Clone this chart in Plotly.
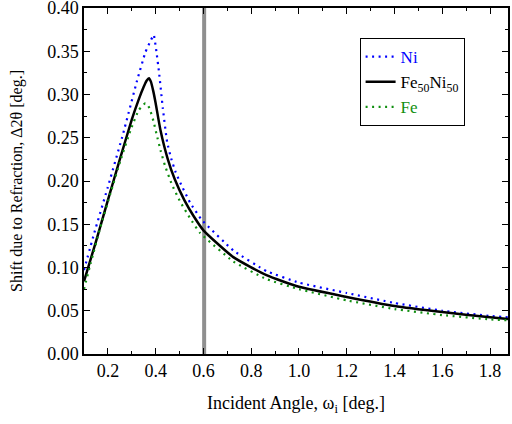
import plotly.graph_objects as go

# Incident angle (deg.) and refraction shift (deg.)
ni_x = [0.10, 0.142, 0.204, 0.264, 0.322, 0.357, 0.380, 0.392, 0.403, 0.414, 0.430, 0.448,
        0.465, 0.484, 0.503, 0.544, 0.593, 0.725, 0.864, 1.00, 1.20, 1.40, 1.60, 1.80, 1.875]
ni_y = [0.097, 0.139, 0.197, 0.255, 0.316, 0.349, 0.363, 0.369, 0.350, 0.326, 0.284, 0.245,
        0.226, 0.210, 0.198, 0.175, 0.155, 0.1197, 0.0958, 0.0825, 0.0705, 0.059, 0.050, 0.044, 0.0425]

feni_x = [0.10, 0.15, 0.20, 0.25, 0.30, 0.33, 0.35, 0.362, 0.372, 0.380, 0.390, 0.400, 0.420,
          0.450, 0.480, 0.520, 0.560, 0.600, 0.725, 0.864, 1.00, 1.20, 1.40, 1.60, 1.80, 1.875]
feni_y = [0.084, 0.130, 0.178, 0.225, 0.271, 0.295, 0.309, 0.316, 0.319, 0.315, 0.304, 0.290, 0.259,
          0.226, 0.202, 0.178, 0.159, 0.143, 0.112, 0.0912, 0.0777, 0.066, 0.0555, 0.0485, 0.0425, 0.0405]

fe_x = [0.10, 0.128, 0.169, 0.211, 0.253, 0.295, 0.329, 0.348, 0.357, 0.367, 0.378, 0.392, 0.403,
        0.422, 0.440, 0.468, 0.503, 0.544, 0.586, 0.725, 0.864, 1.00, 1.20, 1.40, 1.60, 1.80, 1.875]
fe_y = [0.075, 0.105, 0.147, 0.186, 0.224, 0.259, 0.282, 0.288, 0.290, 0.288, 0.281, 0.268, 0.255,
        0.234, 0.217, 0.196, 0.176, 0.157, 0.140, 0.107, 0.0866, 0.075, 0.062, 0.052, 0.045, 0.040, 0.039]

marker_angle = 0.603
y_range = [0.0, 0.4001]

FONT = "Liberation Serif"
NI_BLUE = '#0000ff'
FE_GREEN = '#108f10'

fig = go.Figure()

# grey marker line at the chosen incident angle
fig.add_trace(go.Scatter(
    x=[marker_angle, marker_angle], y=y_range, mode='lines',
    line=dict(color='#8f8f8f', width=4), showlegend=False, hoverinfo='skip'
))

fig.add_trace(go.Scatter(
    x=ni_x, y=ni_y, mode='lines', line_shape='spline',
    line=dict(color=NI_BLUE, width=2.2, dash='2px,4.5px', smoothing=0.3),
    name=f'<span style="color:{NI_BLUE}">Ni</span>'
))
fig.add_trace(go.Scatter(
    x=feni_x, y=feni_y, mode='lines', line_shape='spline',
    line=dict(color='black', width=2.5, smoothing=0.5),
    name='Fe<sub>50</sub>Ni<sub>50</sub>'
))
fig.add_trace(go.Scatter(
    x=fe_x, y=fe_y, mode='lines', line_shape='spline',
    line=dict(color=FE_GREEN, width=2.2, dash='2px,4.5px', smoothing=0.4),
    name=f'<span style="color:{FE_GREEN}">Fe</span>'
))

axis_common = dict(
    showline=True, linecolor='black', linewidth=1.5, mirror='allticks',
    ticks='inside', ticklen=6, tickwidth=1.2, tickcolor='black',
    showgrid=False, zeroline=False, automargin=False, ticklabeloverflow='allow',
    tickfont=dict(family=FONT, size=18, color='black'),
)

fig.update_xaxes(
    range=[0.1, 1.875], dtick=0.2, tick0=0.2, tickformat='.1f',
    minor=dict(ticks='inside', ticklen=3, dtick=0.1, tick0=0.1, tickcolor='black', showgrid=False),
    title=dict(text='Incident Angle, ω<sub>i</sub> [deg.]', standoff=16,
               font=dict(family=FONT, size=18, color='black')),
    **axis_common
)
fig.update_yaxes(
    range=y_range, dtick=0.05, tick0=0, tickformat='.2f',
    minor=dict(ticks='inside', ticklen=3, dtick=0.025, tickcolor='black', showgrid=False),
    title=dict(text='Shift due to Refraction, Δ2θ [deg.]', standoff=21,
               font=dict(family=FONT, size=16, color='black')),
    **axis_common
)

fig.update_layout(
    width=512, height=424,
    margin=dict(l=84, r=4, t=8, b=70),
    paper_bgcolor='white', plot_bgcolor='white',
    font=dict(family=FONT, size=15, color='black'),
    legend=dict(
        x=0.65, y=0.913, xanchor='left', yanchor='top',
        bordercolor='black', borderwidth=1, bgcolor='white',
        font=dict(family=FONT, size=17, color='black'),
        tracegroupgap=0,
    ),
)

# drop the default page margin so the figure sits at the window's corner
fig.write_html("out.html", config={'displayModeBar': False},
               post_script="document.body.style.margin = '0px';")
